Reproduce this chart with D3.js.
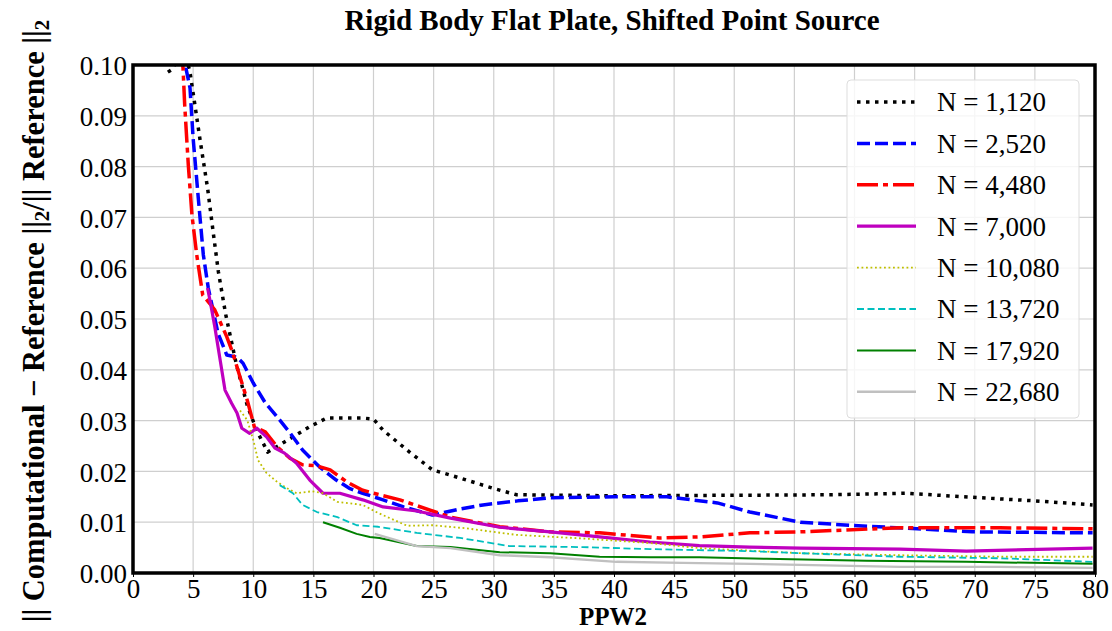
<!DOCTYPE html>
<html>
<head>
<meta charset="utf-8">
<script src="https://cdn.jsdelivr.net/npm/d3@7"></script>
<style>
  html, body { margin: 0; padding: 0; background: #fff; }
  svg { display: block; }
  text { font-family: "Liberation Serif", "Times New Roman", serif; fill: #000; }
</style>
</head>
<body>
<svg id="chart" width="1112" height="631"></svg>
<script>
// ---------------- data ----------------
const seriesNames = ["N = 1,120", "N = 2,520", "N = 4,480", "N = 7,000", "N = 10,080", "N = 13,720", "N = 17,920", "N = 22,680"];

const x1120 = [2.9, 3.3, 3.8, 4.3, 4.75, 5.15, 5.6, 6.2, 6.7, 7.1, 7.7, 8.6, 9.5, 10.3, 11.2, 12.6, 14.7, 16.1, 19.1, 20.0, 20.8, 23.0, 24.9, 27.2, 29.9, 31.9, 40, 50, 58, 64.3, 69.8, 75, 79.8];
const y1120 = [0.0986, 0.0992, 0.102, 0.103, 0.0984, 0.0921, 0.0849, 0.0758, 0.0665, 0.0593, 0.0510, 0.041, 0.033, 0.028, 0.0238, 0.0258, 0.0288, 0.0305, 0.0305, 0.0303, 0.0281, 0.0238, 0.0203, 0.0187, 0.0167, 0.0154, 0.0152, 0.0153, 0.0154, 0.0157, 0.0149, 0.0142, 0.0134];

const x2520 = [4.2, 4.4, 4.74, 5.0, 5.43, 5.85, 6.26, 7.07, 7.8, 8.65, 9.15, 10, 11, 12, 13.05, 14.1, 15.5, 16.9, 18.05, 19.1, 20.8, 22.5, 24.9, 27, 29.1, 32, 34.7, 40, 44.4, 48.6, 51.3, 55.5, 59.6, 65.2, 69.8, 79.8];
const y2520 = [0.103, 0.0994, 0.0955, 0.0856, 0.0738, 0.0626, 0.0561, 0.0472, 0.0429, 0.0425, 0.0413, 0.0374, 0.0335, 0.0307, 0.0276, 0.0242, 0.0209, 0.0183, 0.0166, 0.0157, 0.0144, 0.0130, 0.0114, 0.0125, 0.0134, 0.0142, 0.0148, 0.0150, 0.0150, 0.0138, 0.0120, 0.0100, 0.0094, 0.0087, 0.0081, 0.0079];

const x4480 = [4.0, 4.16, 4.3, 4.6, 4.9, 5.3, 5.8, 6.4, 6.8, 7.8, 8.3, 8.9, 9.5, 10.1, 11, 12, 13.05, 14.1, 15.3, 16.4, 17.8, 19.1, 20.5, 22.2, 26.4, 30.5, 34.7, 38.8, 43.8, 47.1, 51.3, 55.5, 63.8, 72.1, 79.8];
const y4480 = [0.103, 0.0994, 0.0921, 0.0803, 0.0705, 0.0626, 0.0547, 0.053, 0.0518, 0.0465, 0.0433, 0.0386, 0.034, 0.0287, 0.0278, 0.0248, 0.0226, 0.0213, 0.0211, 0.0203, 0.0179, 0.0163, 0.0154, 0.0144, 0.011, 0.0091, 0.0081, 0.0079, 0.0069, 0.0071, 0.0079, 0.0081, 0.0089, 0.0089, 0.0087];

const x7000 = [6.2, 6.4, 6.8, 7.2, 7.65, 8.2, 8.65, 9.05, 9.7, 10.3, 11.1, 11.8, 12.6, 13.6, 14.7, 15.8, 17.2, 19.1, 20.8, 23.6, 26.4, 30.5, 34.7, 38.8, 43, 47.1, 51.3, 55.5, 63.8, 69.3, 79.8];
const y7000 = [0.0561, 0.0537, 0.0485, 0.0426, 0.036, 0.0334, 0.0315, 0.0285, 0.0275, 0.0285, 0.0268, 0.0246, 0.0236, 0.0216, 0.0183, 0.0157, 0.0157, 0.0144, 0.013, 0.0122, 0.0108, 0.009, 0.0081, 0.0071, 0.0061, 0.0054, 0.0051, 0.0049, 0.0047, 0.0043, 0.0049];

const x10080 = [8.9, 9.5, 10, 10.4, 11.1, 12, 12.8, 13.6, 14.9, 15.8, 17, 19.1, 20.4, 22.8, 24.9, 27.7, 31.9, 37.4, 43, 47.1, 55.5, 63.8, 72.1, 79.8];
const y10080 = [0.032, 0.0301, 0.0262, 0.0222, 0.0197, 0.0179, 0.0167, 0.0157, 0.0161, 0.0157, 0.014, 0.0134, 0.0118, 0.0093, 0.0094, 0.0088, 0.0075, 0.0068, 0.0059, 0.0049, 0.0039, 0.0035, 0.0032, 0.0032];

const x13720 = [12.2, 13.3, 14.1, 15.3, 17, 18.6, 20.4, 23.6, 27.2, 31.3, 37.4, 43, 47.1, 51.3, 55.5, 63.8, 72.1, 79.8];
const y13720 = [0.0173, 0.0157, 0.0134, 0.012, 0.011, 0.0094, 0.0091, 0.0079, 0.0069, 0.0053, 0.0051, 0.0047, 0.0045, 0.0043, 0.0039, 0.0032, 0.0029, 0.0022];

const x17920 = [15.8, 17.2, 18.6, 19.7, 20.5, 23.6, 26.4, 30.5, 34.7, 38.8, 43, 47.1, 52.7, 61, 69.3, 79.8];
const y17920 = [0.0100, 0.0089, 0.0077, 0.0071, 0.0069, 0.0053, 0.0051, 0.0041, 0.0039, 0.0032, 0.0031, 0.0031, 0.0028, 0.0024, 0.0022, 0.0018];

const x22680 = [20.1, 23.6, 26.4, 30.5, 34.7, 40.2, 45.7, 51.3, 55.5, 63.8, 72.1, 79.8];
const y22680 = [0.0077, 0.0053, 0.0049, 0.0035, 0.0031, 0.0022, 0.002, 0.0018, 0.0016, 0.0012, 0.0012, 0.001];

const xTicks = [0, 5, 10, 15, 20, 25, 30, 35, 40, 45, 50, 55, 60, 65, 70, 75, 80];
const yTicks = [0.00, 0.01, 0.02, 0.03, 0.04, 0.05, 0.06, 0.07, 0.08, 0.09, 0.10];

const titleText = "Rigid Body Flat Plate, Shifted Point Source";
const xLabel = "PPW2";

// ---------------- styles ----------------
const styles = [
  { color: "#000000", width: 3.5, dash: "3.5,5.5" },
  { color: "#0000ff", width: 3.5, dash: "13,5" },
  { color: "#ff0000", width: 3.5, dash: "21,5,5,5" },
  { color: "#bf00bf", width: 3.2, dash: null },
  { color: "#bfbf00", width: 1.8, dash: "1.8,2.7" },
  { color: "#00bfbf", width: 1.8, dash: "7,3.5" },
  { color: "#008000", width: 2.0, dash: null },
  { color: "#c0c0c0", width: 2.4, dash: null }
];

const xs = [x1120, x2520, x4480, x7000, x10080, x13720, x17920, x22680];
const ys = [y1120, y2520, y4480, y7000, y10080, y13720, y17920, y22680];

// ---------------- layout ----------------
const m = { left: 133, right: 1095, top: 65, bottom: 573 };

const svg = d3.select("#chart");
const x = d3.scaleLinear().domain([0, 80]).range([m.left, m.right]);
const y = d3.scaleLinear().domain([0, 0.10]).range([m.bottom, m.top]);

svg.append("defs").append("clipPath").attr("id", "clip")
  .append("rect").attr("x", m.left).attr("y", m.top)
  .attr("width", m.right - m.left).attr("height", m.bottom - m.top);

// grid
const grid = svg.append("g");
grid.selectAll("line.vx").data(xTicks).join("line")
  .attr("x1", d => x(d)).attr("x2", d => x(d))
  .attr("y1", m.top).attr("y2", m.bottom)
  .attr("stroke", "#cfcfcf").attr("stroke-width", 1.2);
grid.selectAll("line.hy").data(yTicks).join("line")
  .attr("x1", m.left).attr("x2", m.right)
  .attr("y1", d => y(d)).attr("y2", d => y(d))
  .attr("stroke", "#cfcfcf").attr("stroke-width", 1.2);

// axes
const xAxis = svg.append("g").attr("transform", `translate(0,${m.bottom})`)
  .call(d3.axisBottom(x).tickValues(xTicks).tickFormat(d3.format("d")).tickSize(4).tickPadding(2));
const yAxis = svg.append("g").attr("transform", `translate(${m.left},0)`)
  .call(d3.axisLeft(y).tickValues(yTicks).tickFormat(d3.format(".2f")).tickSize(0).tickPadding(6));
[xAxis, yAxis].forEach(g => {
  g.select(".domain").remove();
  g.selectAll("text").style("font-family", '"Liberation Serif", serif').style("font-size", "27px").attr("fill", "#000");
  g.selectAll("line").attr("stroke", "#000");
});
yAxis.selectAll("text").attr("dy", "0.36em");
xAxis.selectAll("text").attr("dy", "0.72em");

// lines
const line = d3.line().x(d => x(d[0])).y(d => y(d[1]));
const lines = svg.append("g").attr("clip-path", "url(#clip)");
xs.forEach((xa, i) => {
  const pts = xa.map((v, k) => [v, ys[i][k]]);
  const s = styles[i];
  lines.append("path").datum(pts)
    .attr("d", line)
    .attr("fill", "none")
    .attr("stroke", s.color)
    .attr("stroke-width", s.width)
    .attr("stroke-dasharray", s.dash)
    .attr("stroke-linejoin", "round");
});

// frame
svg.append("rect").attr("x", m.left).attr("y", m.top)
  .attr("width", m.right - m.left).attr("height", m.bottom - m.top)
  .attr("fill", "none").attr("stroke", "#000").attr("stroke-width", 3.5);

// legend
const lg = svg.append("g");
lg.append("rect").attr("x", 847).attr("y", 80).attr("width", 232).attr("height", 338)
  .attr("rx", 4).attr("fill", "rgba(255,255,255,0.8)").attr("stroke", "#dddddd").attr("stroke-width", 1);
seriesNames.forEach((name, i) => {
  const cy = 102 + i * 41.4;
  const s = styles[i];
  lg.append("line").attr("x1", 857).attr("x2", 916).attr("y1", cy).attr("y2", cy)
    .attr("stroke", s.color).attr("stroke-width", s.width).attr("stroke-dasharray", s.dash);
  lg.append("text").attr("x", 937).attr("y", cy).attr("dy", "0.35em")
    .style("font-size", "27px").text(name);
});

// title
svg.append("text").attr("x", (m.left + m.right) / 2 - 2).attr("y", 30)
  .attr("text-anchor", "middle").style("font-size", "29px").style("font-weight", "bold")
  .text(titleText);

// x label
svg.append("text").attr("x", (m.left + m.right) / 2 - 1).attr("y", 625)
  .attr("text-anchor", "middle").style("font-size", "25px").style("font-weight", "bold")
  .text(xLabel);

// y label
const yl = svg.append("text").attr("transform", `translate(44,${(m.top + m.bottom) / 2 + 2}) rotate(-90)`)
  .attr("text-anchor", "middle").style("font-size", "30.5px").style("font-weight", "bold");
yl.append("tspan").text("|| Computational \u2212 Reference ||");
yl.append("tspan").attr("baseline-shift", "-25%").style("font-size", "21px").text("2");
yl.append("tspan").text("/|| Reference ||");
yl.append("tspan").attr("baseline-shift", "-25%").style("font-size", "21px").text("2");
</script>
</body>
</html>
